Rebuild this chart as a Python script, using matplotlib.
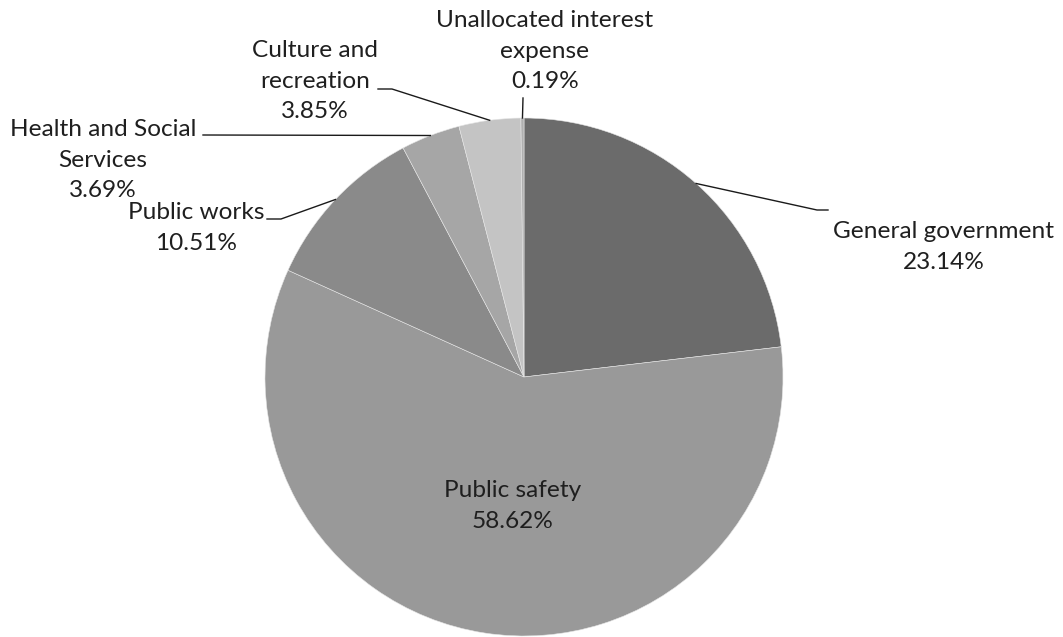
import numpy as np
import matplotlib
matplotlib.use("Agg")
import matplotlib.pyplot as plt

# Expenditure shares by function (percent)
categories = ["General government", "Public safety", "Public works",
              "Health and Social\nServices", "Culture and\nrecreation",
              "Unallocated interest\nexpense"]
shares = [23.14, 58.62, 10.51, 3.69, 3.85, 0.19]
colors = ["#6b6b6b", "#999999", "#8a8a8a", "#a6a6a6", "#c4c4c4", "#b0b0b0"]

W, H = 1063, 637
CX, CY, R = 524, 377, 259  # pie centre and radius in pixels

fig = plt.figure(figsize=(W / 100, H / 100), dpi=100)
ax = fig.add_axes([0, 0, 1, 1])
plt.rcParams["font.family"] = ["Lato", "DejaVu Sans"]

wedges, _ = ax.pie(shares, colors=colors, startangle=90, counterclock=False,
                   radius=1.0, wedgeprops=dict(edgecolor="#e6e6e6", linewidth=0.4))

ax.set_xlim(-CX / R, (W - CX) / R)
ax.set_ylim(-(H - CY) / R, CY / R)
ax.set_aspect("equal", adjustable="box")
ax.axis("off")


def px(x, y):
    """Pixel position (origin top-left) to data coordinates."""
    return (x - CX) / R, (CY - y) / R


text_kw = dict(ha="center", va="center", fontsize=17.6, color="#1f1f1f",
               linespacing=1.55, multialignment="center")
line_kw = dict(color="#1a1a1a", linewidth=1.0)

# label text centres (pixels) and leader elbow points (pixels)
label_pos = [(944, 247), None, (196, 228), (103, 160), (315, 81), (545, 51)]
elbows = [[(817, 210), (828, 210)],
          None,
          [(281, 219), (267, 219)],
          [(203, 135)],
          [(392, 89), (378, 89)],
          [(523, 98)]]

total = sum(shares)
start = 0.0
for name, val, pos, elb in zip(categories, shares, label_pos, elbows):
    mid = (start + val / 2) / total * 2 * np.pi
    start += val
    text = f"{name}\n{val:.2f}%"
    if pos is None:
        ax.text(*px(513, 506), text, **text_kw)
        continue
    edge = (np.sin(mid), np.cos(mid))
    pts = [edge] + [px(*p) for p in elb]
    xs, ys = zip(*pts)
    ax.plot(xs, ys, **line_kw)
    ax.text(*px(*pos), text, **text_kw)

fig.savefig("out.png", dpi=100, facecolor="white")
